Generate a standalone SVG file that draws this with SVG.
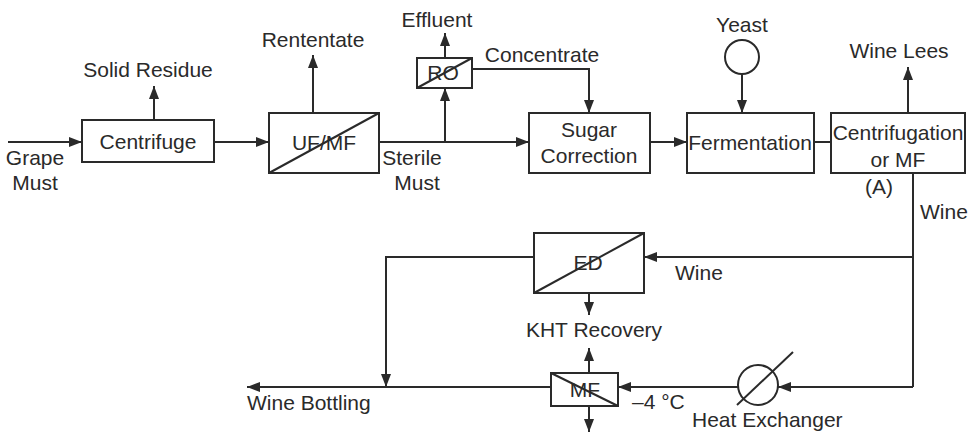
<svg xmlns="http://www.w3.org/2000/svg" width="971" height="434" viewBox="0 0 971 434">
<style>
.box{fill:#fff;stroke:#2a2a2a;stroke-width:2}
.ln{fill:none;stroke:#2a2a2a;stroke-width:2}
.arr{fill:none;stroke:#2a2a2a;stroke-width:2;marker-end:url(#ah)}
text{font-family:"Liberation Sans",Arial,sans-serif;font-size:21px;fill:#2a2a2a}
.c{text-anchor:middle}
</style>
<defs>
<marker id="ah" markerUnits="userSpaceOnUse" markerWidth="14" markerHeight="10" refX="13" refY="5" orient="auto">
<path d="M0,0 L13,5 L0,10 z" fill="#2a2a2a"/>
</marker>
</defs>
<rect width="971" height="434" fill="#fff"/>
<g id="connectors">
<path class="arr" d="M8,142 H82"/>
<path class="arr" d="M154,120 V86"/>
<path class="arr" d="M214,142 H269"/>
<path class="arr" d="M313,113 V55"/>
<path class="arr" d="M379,142 H529"/>
<path class="arr" d="M445,142 V88"/>
<path class="arr" d="M445,58 V33"/>
<path class="arr" d="M472,69 H589 V113"/>
<path class="arr" d="M650,142 H687"/>
<path class="arr" d="M742,74 V113"/>
<path class="ln" d="M814,142 H831"/>
<path class="arr" d="M908,113 V67"/>
<path class="ln" d="M913,173 V387"/>
<path class="arr" d="M913,257 H644"/>
<path class="arr" d="M534,257 H386 V387"/>
<path class="arr" d="M589,293 V315"/>
<path class="arr" d="M913,387 H778"/>
<path class="arr" d="M738,387 H618"/>
<path class="arr" d="M551,387 H247"/>
<path class="arr" d="M589,373 V348"/>
<path class="arr" d="M589,406 V432"/>
</g>
<g id="grape-must"><text class="c" x="35" y="165">Grape</text><text class="c" x="35" y="190">Must</text></g>
<g id="solid-residue"><text class="c" x="148" y="77">Solid Residue</text></g>
<g id="centrifuge"><rect class="box" x="82" y="120" width="132" height="42"/><text class="c" x="148" y="149">Centrifuge</text></g>
<g id="retentate"><text class="c" x="313" y="47">Rententate</text></g>
<g id="ufmf"><rect class="box" x="269" y="113" width="110" height="60"/><line class="ln" x1="269" y1="173" x2="379" y2="113"/><text class="c" x="324" y="150">UF/MF</text></g>
<g id="effluent"><text class="c" x="437" y="27">Effluent</text></g>
<g id="ro"><rect class="box" x="417" y="58" width="55" height="30"/><line class="ln" x1="417" y1="88" x2="472" y2="58"/><text class="c" x="443" y="80">RO</text></g>
<g id="concentrate"><text class="c" x="542" y="62">Concentrate</text></g>
<g id="sterile-must"><text class="c" x="412" y="165">Sterile</text><text class="c" x="417" y="190">Must</text></g>
<g id="sugar-correction"><rect class="box" x="529" y="113" width="121" height="60"/><text class="c" x="589" y="137">Sugar</text><text class="c" x="589" y="163">Correction</text></g>
<g id="yeast"><text class="c" x="742" y="32">Yeast</text><circle class="box" cx="742" cy="57" r="17"/></g>
<g id="fermentation"><rect class="box" x="687" y="113" width="127" height="60"/><text class="c" x="750" y="150">Fermentation</text></g>
<g id="wine-lees"><text class="c" x="899" y="58">Wine Lees</text></g>
<g id="centrifugation"><rect class="box" x="831" y="113" width="134" height="60"/><text class="c" x="898" y="140">Centrifugation</text><text class="c" x="898" y="167">or MF</text><text class="c" x="879" y="194">(A)</text></g>
<g id="wine-labels"><text x="920" y="219">Wine</text><text x="675" y="280">Wine</text></g>
<g id="ed"><rect class="box" x="534" y="233" width="110" height="60"/><line class="ln" x1="534" y1="293" x2="644" y2="233"/><text class="c" x="588" y="270">ED</text></g>
<g id="kht"><text class="c" x="594" y="337">KHT Recovery</text></g>
<g id="mf"><rect class="box" x="551" y="373" width="67" height="33"/><line class="ln" x1="551" y1="373" x2="618" y2="406"/><text class="c" x="585" y="397">MF</text></g>
<g id="wine-bottling"><text x="247" y="410">Wine Bottling</text></g>
<g id="temp"><text x="632" y="409">–4 °C</text></g>
<g id="heat-exchanger"><circle class="box" cx="758" cy="385" r="20"/><line class="ln" x1="737" y1="405" x2="793" y2="352"/><text x="692" y="427">Heat Exchanger</text></g>
</svg>
